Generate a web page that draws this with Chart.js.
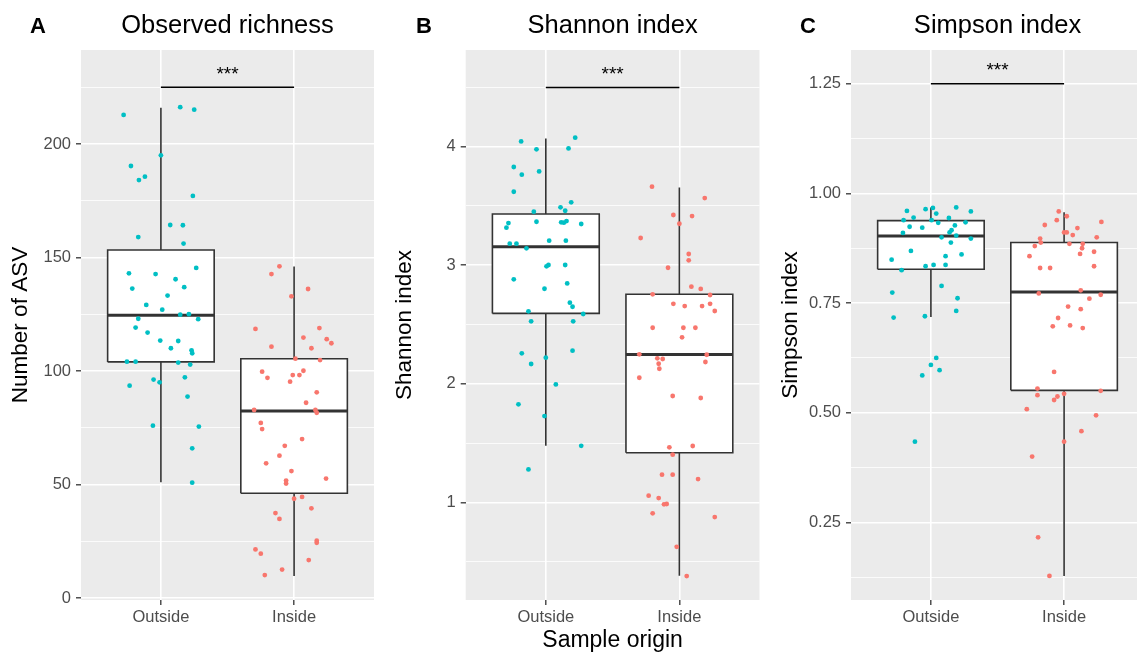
<!DOCTYPE html>
<html>
<head>
<meta charset="utf-8">
<script src="https://cdn.jsdelivr.net/npm/chart.js@4.4.1/dist/chart.umd.min.js"></script>
<style>
  html, body { margin: 0; padding: 0; background: #fff; overflow: hidden; width: 1137px; height: 655px; }
  .panel { position: absolute; top: 0; height: 655px; }
  .tag { position: absolute; top: 14.5px; font: bold 22px "Liberation Sans", Arial, sans-serif; line-height: 22px; color: #000; }
</style>
</head>
<body>
<div class="panel" style="left:0;width:380px"><canvas id="chartA"></canvas></div>
<div class="panel" style="left:380px;width:385px"><canvas id="chartB"></canvas></div>
<div class="panel" style="left:765px;width:385px"><canvas id="chartC"></canvas></div>
<div class="tag" style="left:30px">A</div>
<div class="tag" style="left:416px">B</div>
<div class="tag" style="left:800px">C</div>

<script>
// ---------------- dados ----------------
const categories = ['Outside', 'Inside'];

// box: [min, q1, mediana, q3, max]
const richnessOutsideBox = [51, 104, 124.5, 153.3, 216];
const richnessInsideBox = [9.7, 46.1, 82.4, 105.4, 146];
const shannonOutsideBox = [1.477, 2.594, 3.156, 3.432, 4.07];
const shannonInsideBox = [0.381, 1.418, 2.248, 2.755, 3.657];
const simpsonOutsideBox = [0.718, 0.827, 0.903, 0.938, 0.968];
const simpsonInsideBox = [0.128, 0.551, 0.775, 0.888, 0.957];

// nivel da barra de significancia
const sigLevels = [225, 4.5, 1.25];

// Observed richness
const richnessOutside = [212.8, 216.2, 215.1, 195.0, 190.3, 184.1, 185.6, 177.1, 164.3, 164.2, 159.0, 156.1, 143.0, 142.7, 145.4, 140.4, 136.3, 136.9, 133.2, 129.1, 127.0, 124.8, 125.0, 123.0, 122.8, 119.1, 116.9, 113.4, 113.2, 110.0, 109.1, 107.8, 104.1, 104.1, 103.7, 102.8, 96.2, 95.0, 93.5, 97.2, 88.7, 75.9, 75.5, 65.9, 50.8];
const richnessOutsideJitter = [0.72, 1.145, 1.25, 1.0, 0.775, 0.835, 0.88, 1.24, 1.07, 1.165, 0.83, 1.17, 0.76, 0.96, 1.265, 1.11, 0.785, 1.175, 1.05, 0.89, 1.01, 1.145, 1.21, 0.83, 1.28, 0.81, 0.9, 0.995, 1.13, 1.075, 1.23, 1.235, 0.745, 0.81, 1.13, 1.22, 0.945, 0.99, 0.765, 1.18, 1.2, 0.94, 1.285, 1.235, 1.235];
const richnessInside = [146.1, 142.7, 136.1, 132.9, 118.5, 118.9, 114.7, 110.7, 114.0, 112.2, 110.0, 105.4, 104.8, 99.7, 100.1, 98.2, 98.2, 97.0, 95.3, 90.6, 86.0, 82.8, 82.8, 81.6, 77.1, 74.4, 70.0, 67.0, 62.7, 59.3, 55.9, 51.7, 50.4, 52.6, 43.7, 44.5, 39.5, 37.4, 34.8, 25.2, 24.3, 21.4, 19.5, 16.7, 12.5, 10.1];
const richnessInsideJitter = [1.89, 1.83, 2.105, 1.98, 1.71, 2.19, 2.07, 1.83, 2.245, 2.28, 2.13, 2.01, 2.195, 1.76, 2.07, 1.99, 2.04, 1.8, 1.97, 2.17, 2.09, 1.7, 2.16, 2.17, 1.75, 1.76, 2.06, 1.93, 1.89, 1.79, 1.98, 1.94, 1.94, 2.24, 2.0, 2.06, 2.13, 1.86, 1.89, 2.17, 2.17, 1.71, 1.75, 2.11, 1.91, 1.78];

// Shannon index
const shannonOutside = [4.045, 3.978, 3.986, 4.076, 3.829, 3.764, 3.792, 3.620, 3.531, 3.489, 3.460, 3.452, 3.356, 3.317, 3.367, 3.362, 3.373, 3.359, 3.348, 3.182, 3.182, 3.207, 3.207, 3.143, 3.002, 2.991, 3.002, 2.881, 2.802, 2.847, 2.684, 2.650, 2.611, 2.589, 2.527, 2.527, 2.257, 2.279, 2.220, 2.167, 1.995, 1.827, 1.728, 1.477, 1.278];
const shannonOutsideJitter = [0.815, 0.93, 1.17, 1.22, 0.76, 0.82, 0.95, 0.76, 1.19, 1.11, 1.145, 0.91, 0.72, 0.705, 0.93, 1.115, 1.155, 1.135, 1.265, 0.73, 0.78, 1.025, 1.15, 0.855, 1.02, 1.005, 1.145, 0.76, 0.99, 1.16, 1.18, 1.2, 0.87, 1.28, 0.89, 1.205, 0.82, 1.2, 1.0, 0.89, 1.075, 0.795, 0.99, 1.265, 0.87];
const shannonInside = [3.663, 3.567, 3.424, 3.415, 3.350, 3.230, 3.095, 3.042, 2.979, 2.819, 2.800, 2.749, 2.755, 2.675, 2.656, 2.656, 2.675, 2.614, 2.473, 2.473, 2.473, 2.392, 2.249, 2.245, 2.215, 2.209, 2.169, 2.184, 2.127, 2.051, 1.897, 1.880, 1.464, 1.475, 1.402, 1.233, 1.233, 1.196, 1.056, 1.036, 0.983, 0.986, 0.907, 0.876, 0.625, 0.378];
const shannonInsideJitter = [1.795, 2.19, 1.955, 2.095, 2.0, 1.71, 2.07, 2.07, 1.915, 2.09, 2.16, 2.23, 1.8, 1.955, 2.04, 2.17, 2.23, 2.265, 1.8, 2.03, 2.12, 2.02, 1.7, 2.205, 1.835, 1.875, 1.845, 2.195, 1.85, 1.7, 1.95, 2.16, 1.925, 2.1, 1.95, 1.87, 1.95, 2.14, 1.77, 1.845, 1.885, 1.905, 1.8, 2.265, 1.98, 2.055];

// Simpson index
const simpsonOutside = [0.960, 0.964, 0.967, 0.954, 0.968, 0.959, 0.939, 0.945, 0.939, 0.933, 0.944, 0.934, 0.924, 0.922, 0.927, 0.916, 0.911, 0.910, 0.904, 0.900, 0.897, 0.888, 0.869, 0.861, 0.857, 0.849, 0.834, 0.837, 0.837, 0.825, 0.789, 0.774, 0.761, 0.732, 0.717, 0.720, 0.625, 0.609, 0.597, 0.585, 0.434];
const simpsonOutsideJitter = [0.82, 0.96, 1.015, 1.04, 1.19, 1.3, 0.795, 0.87, 1.005, 1.055, 1.135, 1.26, 0.84, 0.935, 1.18, 1.155, 1.14, 0.79, 1.19, 1.08, 1.3, 1.15, 0.85, 1.23, 1.11, 0.705, 0.96, 1.02, 1.11, 0.78, 1.08, 0.71, 1.2, 1.19, 0.72, 0.955, 1.04, 1.0, 1.065, 0.935, 0.88];
const simpsonInside = [0.959, 0.948, 0.939, 0.935, 0.928, 0.921, 0.911, 0.911, 0.905, 0.900, 0.897, 0.888, 0.880, 0.885, 0.885, 0.875, 0.867, 0.862, 0.857, 0.830, 0.830, 0.834, 0.772, 0.779, 0.769, 0.760, 0.742, 0.736, 0.716, 0.697, 0.699, 0.693, 0.593, 0.555, 0.550, 0.543, 0.540, 0.537, 0.529, 0.508, 0.494, 0.458, 0.434, 0.400, 0.216, 0.128];
const simpsonInsideJitter = [1.96, 2.02, 1.945, 2.28, 1.855, 2.1, 2.0, 2.02, 2.065, 2.245, 1.82, 1.825, 1.78, 2.04, 2.14, 2.135, 2.225, 2.12, 1.74, 1.82, 1.895, 2.225, 1.81, 2.125, 2.275, 2.19, 2.03, 2.125, 1.955, 1.915, 2.045, 2.14, 1.925, 1.8, 2.275, 2.0, 1.8, 1.95, 1.925, 1.72, 2.24, 2.13, 2.0, 1.76, 1.805, 1.89];
// ---------------------------------------

const FONT = '"Liberation Sans", Arial, sans-serif';
const TEAL = '#00BFC4';
const SALMON = '#F8766D';
const LINE = '#333333';
const HALF = 0.4; // meia largura da caixa (unidades de categoria)

function pts(vals, jit) {
    return vals.map((v, i) => ({ x: jit[i], y: v }));
}

function boxSets(c, b) {
    const [mn, q1, med, q3, mx] = b;
    return [
        { // caixa
            data: [{ x: c - HALF, y: q1 }, { x: c + HALF, y: q1 }, { x: c + HALF, y: q3 }, { x: c - HALF, y: q3 }, { x: c - HALF, y: q1 }],
            showLine: true, fill: 'shape', backgroundColor: '#ffffff', borderColor: LINE, borderWidth: 1.6,
            borderJoinStyle: 'miter', pointRadius: 0, order: 3
        },
        { // mediana
            data: [{ x: c - HALF, y: med }, { x: c + HALF, y: med }],
            showLine: true, borderColor: LINE, borderWidth: 3, pointRadius: 0, order: 2
        },
        { // bigodes
            data: [{ x: c, y: q3 }, { x: c, y: mx }, { x: c, y: null }, { x: c, y: q1 }, { x: c, y: mn }],
            showLine: true, spanGaps: false, borderColor: LINE, borderWidth: 1.6, pointRadius: 0, order: 4
        }
    ];
}

const panelBg = {
    id: 'panelBg',
    beforeDraw(chart) {
        const { ctx, chartArea: a } = chart;
        ctx.save();
        ctx.fillStyle = '#EBEBEB';
        ctx.fillRect(a.left, a.top, a.right - a.left, a.bottom - a.top);
        ctx.restore();
    }
};

const stars = {
    id: 'stars',
    afterDatasetsDraw(chart, args, opts) {
        const { ctx, scales } = chart;
        const x = scales.x.getPixelForValue(1.5);
        const y = scales.y.getPixelForValue(opts.level);
        ctx.save();
        ctx.fillStyle = '#000';
        ctx.font = '19px ' + FONT;
        ctx.textAlign = 'center';
        ctx.textBaseline = 'alphabetic';
        ctx.fillText('***', x, y - 7.5);
        ctx.restore();
    }
};

function makePanel(id, o) {
    const isMajor = v => Math.abs(v / o.major - Math.round(v / o.major)) < 1e-6;
    const datasets = [
        { data: pts(o.outVals, o.outJit), backgroundColor: TEAL, pointRadius: 2.4, pointBorderWidth: 0, order: 0 },
        { data: pts(o.inVals, o.inJit), backgroundColor: SALMON, pointRadius: 2.4, pointBorderWidth: 0, order: 0 },
        ...boxSets(1, o.outBox),
        ...boxSets(2, o.inBox),
        { // barra de significancia
            data: [{ x: 1, y: o.sig }, { x: 2, y: o.sig }],
            showLine: true, borderColor: '#000', borderWidth: 1.5, pointRadius: 0, order: 1
        }
    ];

    new Chart(document.getElementById(id), {
        type: 'scatter',
        data: { datasets },
        options: {
            responsive: true,
            maintainAspectRatio: false,
            animation: false,
            events: [],
            layout: { padding: { left: 0, right: o.padRight, top: 0, bottom: 0 } },
            plugins: {
                legend: { display: false },
                tooltip: { enabled: false },
                title: {
                    display: true, text: o.title, fullSize: false, color: '#000',
                    font: { family: FONT, size: 25.5, weight: 'normal' },
                    padding: { top: 10.2, bottom: 9.2 }
                },
                stars: { level: o.sig }
            },
            scales: {
                x: {
                    type: 'linear', min: 0.4, max: 2.6,
                    afterBuildTicks: s => { s.ticks = [{ value: 1 }, { value: 2 }]; },
                    afterFit: s => { s.height = 55; },
                    border: { display: false },
                    grid: { color: '#ffffff', lineWidth: 1.6, tickColor: LINE, tickLength: 5, tickWidth: 1.3 },
                    ticks: {
                        color: '#4D4D4D', font: { family: FONT, size: 16.5 }, padding: 3, maxRotation: 0,
                        callback: v => categories[Math.round(v) - 1]
                    },
                    title: {
                        display: o.xTitle !== '', text: o.xTitle, color: '#000',
                        font: { family: FONT, size: 23 }, padding: { top: 0, bottom: 0.5 }
                    }
                },
                y: {
                    type: 'linear', min: o.yMin, max: o.yMax,
                    afterFit: s => { s.width = o.yWidth; },
                    border: { display: false },
                    grid: {
                        color: '#ffffff',
                        lineWidth: c => (c.tick && isMajor(c.tick.value)) ? 1.6 : 0.8,
                        tickColor: c => (c.tick && isMajor(c.tick.value)) ? LINE : 'rgba(0,0,0,0)',
                        tickLength: 5, tickWidth: 1.3
                    },
                    ticks: {
                        stepSize: o.major / 2, includeBounds: false, autoSkip: false,
                        color: '#4D4D4D', font: { family: FONT, size: 16.5 }, padding: 5,
                        callback: v => isMajor(v) ? v.toFixed(o.decimals) : ''
                    },
                    title: {
                        display: true, text: o.yTitle, color: '#000',
                        font: { family: FONT, size: 22.5 }, padding: { top: o.yTitlePad, bottom: 0 }
                    }
                }
            }
        },
        plugins: [panelBg, stars]
    });
}

//               Painel A            //
makePanel('chartA', {
    title: 'Observed richness', yTitle: 'Number of ASV', xTitle: '',
    outVals: richnessOutside, outJit: richnessOutsideJitter,
    inVals: richnessInside, inJit: richnessInsideJitter,
    outBox: richnessOutsideBox, inBox: richnessInsideBox, sig: sigLevels[0],
    yMin: -0.9, yMax: 241.4, major: 50, decimals: 0,
    yWidth: 81, yTitlePad: 7.3, padRight: 6
});

//               Painel B            //
makePanel('chartB', {
    title: 'Shannon index', yTitle: 'Shannon index', xTitle: 'Sample origin',
    outVals: shannonOutside, outJit: shannonOutsideJitter,
    inVals: shannonInside, inJit: shannonInsideJitter,
    outBox: shannonOutsideBox, inBox: shannonInsideBox, sig: sigLevels[1],
    yMin: 0.176, yMax: 4.816, major: 1, decimals: 0,
    yWidth: 85.7, yTitlePad: 11.2, padRight: 5.5
});

//               Painel C            //
makePanel('chartC', {
    title: 'Simpson index', yTitle: 'Simpson index', xTitle: '',
    outVals: simpsonOutside, outJit: simpsonOutsideJitter,
    inVals: simpsonInside, inJit: simpsonInsideJitter,
    outBox: simpsonOutsideBox, inBox: simpsonInsideBox, sig: sigLevels[2],
    yMin: 0.073, yMax: 1.327, major: 0.25, decimals: 2,
    yWidth: 86, yTitlePad: 12, padRight: 6
});
</script>
</body>
</html>
